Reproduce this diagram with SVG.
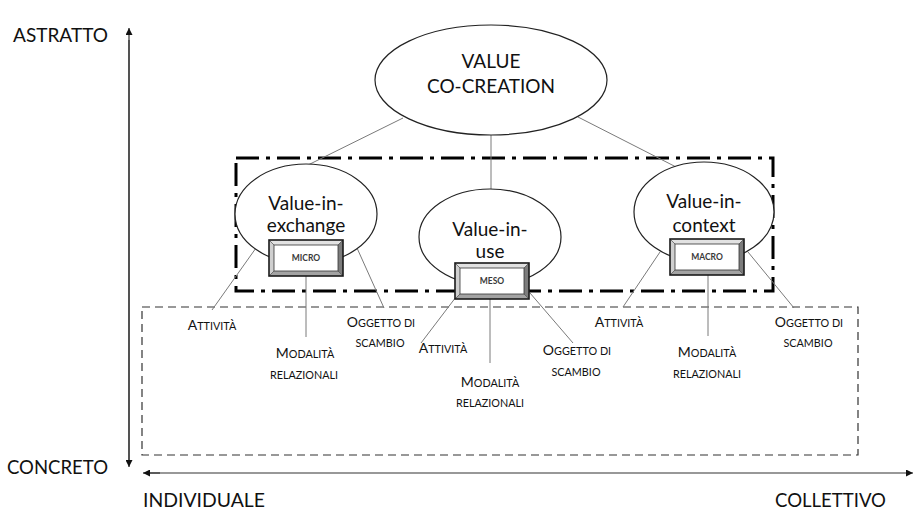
<svg xmlns="http://www.w3.org/2000/svg" width="915" height="513" viewBox="0 0 915 513">
  <style>
    text { font-family: Lato, "Liberation Sans", sans-serif; fill: #111; }
    .axis { font-size: 20px; }
    .node { font-size: 19px; text-anchor: middle; }
    .tag { font-size: 8.5px; text-anchor: middle; fill: #3a3a3a; font-weight: bold; }
    .sc { font-size: 10.8px; text-anchor: middle; }
    .big { font-size: 14px; }
    .ell { fill: #fff; stroke: #222; stroke-width: 1.2; }
    .link { stroke: #7a7a7a; stroke-width: 1; fill: none; }
    .axline { stroke: #333; stroke-width: 1.2; fill: none; }
  </style>
  <defs>
    <marker id="arrow" viewBox="0 0 10 10" refX="10" refY="5" markerWidth="7" markerHeight="7" orient="auto-start-reverse" markerUnits="userSpaceOnUse">
      <path d="M0,0 L10,5 L0,10 z" fill="#111"/>
    </marker>
    <!-- bevelled label plate, 74 x 36 -->
    <g id="plate">
      <rect x="0" y="0" width="74" height="36" fill="#fff"/>
      <polygon points="0,0 74,0 69,5 5,5" fill="#e2e2e2"/>
      <polygon points="0,0 5,5 5,31 0,36" fill="#cfcfcf"/>
      <polygon points="74,0 74,36 69,31 69,5" fill="#7c7c7c"/>
      <polygon points="0,36 74,36 69,31 5,31" fill="#a3a3a3"/>
      <rect x="5" y="5" width="64" height="26" fill="#fff" stroke="#333" stroke-width="0.8"/>
      <path d="M0,0 L5,5 M74,0 L69,5 M0,36 L5,31 M74,36 L69,31" stroke="#333" stroke-width="0.6"/>
      <rect x="0" y="0" width="74" height="36" fill="none" stroke="#1a1a1a" stroke-width="1.6"/>
    </g>
  </defs>

  <!-- axes -->
  <g id="axes">
    <line class="axline" x1="129" y1="462" x2="129" y2="28" marker-end="url(#arrow)"/>
    <line class="axline" x1="129" y1="40" x2="129" y2="467" marker-end="url(#arrow)"/>
    <line class="axline" x1="160" y1="473" x2="143" y2="473" marker-end="url(#arrow)"/>
    <line class="axline" x1="150" y1="473" x2="913" y2="473" marker-end="url(#arrow)"/>
    <text class="axis" x="13" y="42" textLength="95" lengthAdjust="spacingAndGlyphs">ASTRATTO</text>
    <text class="axis" x="7" y="474" textLength="101" lengthAdjust="spacingAndGlyphs">CONCRETO</text>
    <text class="axis" x="143" y="507" textLength="122" lengthAdjust="spacingAndGlyphs">INDIVIDUALE</text>
    <text class="axis" x="775" y="507" textLength="111" lengthAdjust="spacingAndGlyphs">COLLETTIVO</text>
  </g>

  <!-- grouping frames -->
  <g id="frames">
    <rect x="142" y="307" width="716" height="148" fill="none" stroke="#333" stroke-width="1.2" stroke-dasharray="8 5"/>
    <rect x="236" y="158" width="537" height="133" fill="none" stroke="#000" stroke-width="3" stroke-dasharray="23 7 4 7"/>
  </g>

  <!-- connectors -->
  <g id="connectors">
    <line class="link" x1="403" y1="118" x2="308" y2="165"/>
    <line class="link" x1="491" y1="135" x2="491" y2="189"/>
    <line class="link" x1="578" y1="117" x2="682" y2="170"/>
    <line class="link" x1="256" y1="248" x2="212" y2="310"/>
    <line class="link" x1="306" y1="276" x2="306" y2="337"/>
    <line class="link" x1="357" y1="248" x2="384" y2="308"/>
    <line class="link" x1="456" y1="297" x2="421" y2="343"/>
    <line class="link" x1="490" y1="298" x2="490" y2="363"/>
    <line class="link" x1="530" y1="293" x2="573" y2="343"/>
    <line class="link" x1="660" y1="252" x2="623" y2="307"/>
    <line class="link" x1="708" y1="275" x2="708" y2="336"/>
    <line class="link" x1="748" y1="252" x2="794" y2="308"/>
  </g>

  <g id="value-co-creation">
    <ellipse class="ell" cx="491" cy="80" rx="116" ry="55"/>
    <text class="node" x="491" y="68">VALUE</text>
    <text class="node" x="491" y="93">CO-CREATION</text>
  </g>

  <g id="value-in-exchange">
    <ellipse class="ell" cx="306" cy="214" rx="71" ry="50"/>
    <text class="node" x="306" y="210">Value-in-</text>
    <text class="node" x="306" y="232">exchange</text>
    <use href="#plate" x="269" y="240"/>
    <text class="tag" x="306" y="261">MICRO</text>
  </g>

  <g id="value-in-use">
    <ellipse class="ell" cx="490" cy="237" rx="71" ry="48"/>
    <text class="node" x="490" y="236">Value-in-</text>
    <text class="node" x="490" y="258">use</text>
    <use href="#plate" x="455" y="263"/>
    <text class="tag" x="492" y="284">MESO</text>
  </g>

  <g id="value-in-context">
    <ellipse class="ell" cx="704" cy="212" rx="70" ry="50"/>
    <text class="node" x="704" y="208">Value-in-</text>
    <text class="node" x="704" y="232">context</text>
    <use href="#plate" x="670" y="239"/>
    <text class="tag" x="707" y="260">MACRO</text>
  </g>

  <!-- dimension labels, micro level -->
  <g id="micro-labels">
    <text class="sc" x="212" y="330"><tspan class="big">A</tspan>TTIVITÀ</text>
    <text class="sc" x="381" y="327"><tspan class="big">O</tspan>GGETTO DI</text>
    <text class="sc" x="380" y="347">SCAMBIO</text>
    <text class="sc" x="305" y="358"><tspan class="big">M</tspan>ODALITÀ</text>
    <text class="sc" x="304" y="379">RELAZIONALI</text>
  </g>

  <!-- dimension labels, meso level -->
  <g id="meso-labels">
    <text class="sc" x="443" y="353"><tspan class="big">A</tspan>TTIVITÀ</text>
    <text class="sc" x="577" y="355"><tspan class="big">O</tspan>GGETTO DI</text>
    <text class="sc" x="576" y="376">SCAMBIO</text>
    <text class="sc" x="490" y="387"><tspan class="big">M</tspan>ODALITÀ</text>
    <text class="sc" x="490" y="407">RELAZIONALI</text>
  </g>

  <!-- dimension labels, macro level -->
  <g id="macro-labels">
    <text class="sc" x="619" y="327"><tspan class="big">A</tspan>TTIVITÀ</text>
    <text class="sc" x="809" y="327"><tspan class="big">O</tspan>GGETTO DI</text>
    <text class="sc" x="808" y="347">SCAMBIO</text>
    <text class="sc" x="707" y="357"><tspan class="big">M</tspan>ODALITÀ</text>
    <text class="sc" x="707" y="378">RELAZIONALI</text>
  </g>
</svg>
